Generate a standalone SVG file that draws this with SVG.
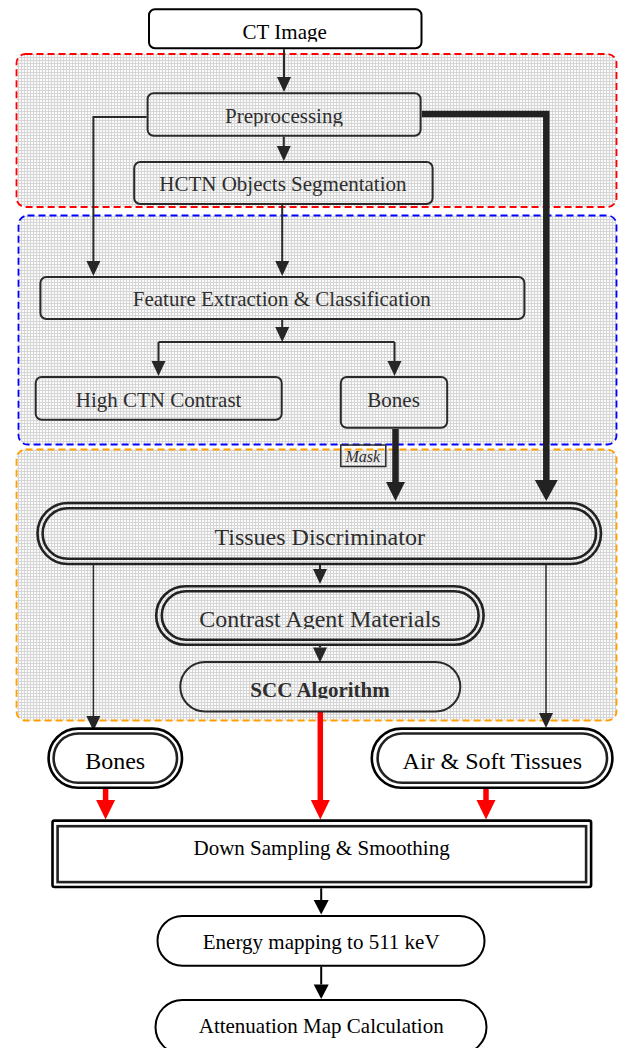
<svg xmlns="http://www.w3.org/2000/svg" width="618" height="1048" viewBox="0 0 618 1048">
<style>
.t{font-family:"Liberation Serif","Times New Roman",serif;font-size:21px;fill:#2e2e2e;text-anchor:middle}
.tb{fill:#000}
.big{font-size:24px}
.bold{font-weight:bold}
.it{font-style:italic;font-size:16px}
.box{fill:none;stroke:#2a2a2a;stroke-width:2}
.boxw{fill:#fff;stroke:#000;stroke-width:2}
.dbl{fill:none;stroke:#222;stroke-width:2.6}
.dblw{fill:#fff;stroke:#000;stroke-width:2.6}
.ln{fill:none;stroke:#2a2a2a;stroke-width:2}
.thin{fill:none;stroke:#2a2a2a;stroke-width:1.5}
.thick{fill:none;stroke:#222;stroke-width:6.5}
.lnb{fill:none;stroke:#000;stroke-width:2}
.red{fill:none;stroke:#ff0000;stroke-width:5.5}
.reg{fill:url(#grid);stroke-width:1.8;stroke-dasharray:7 4}
</style>
<defs>
<pattern id="grid" width="3" height="3" patternUnits="userSpaceOnUse">
<rect width="3" height="3" fill="#fafafa"/>
<path d="M0,0.5H3M0.5,0V3" stroke="#d6d6d6" stroke-width="1"/>
</pattern>
<marker id="mD" markerUnits="userSpaceOnUse" orient="auto" refX="0" refY="0" markerWidth="20" markerHeight="20" viewBox="0 -10 20 20" overflow="visible"><path d="M0,-7 L15,0 L0,7 z" fill="#262626"/></marker>
<marker id="mT1" markerUnits="userSpaceOnUse" orient="auto" refX="0" refY="0" markerWidth="24" markerHeight="24" viewBox="0 -12 24 24" overflow="visible"><path d="M0,-9.5 L19,0 L0,9.5 z" fill="#222"/></marker>
<marker id="mT2" markerUnits="userSpaceOnUse" orient="auto" refX="0" refY="0" markerWidth="26" markerHeight="26" viewBox="0 -13 26 26" overflow="visible"><path d="M0,-11.5 L21,0 L0,11.5 z" fill="#222"/></marker>
<marker id="mB" markerUnits="userSpaceOnUse" orient="auto" refX="0" refY="0" markerWidth="20" markerHeight="20" viewBox="0 -10 20 20" overflow="visible"><path d="M0,-7.5 L14.5,0 L0,7.5 z" fill="#000"/></marker>
<marker id="mR" markerUnits="userSpaceOnUse" orient="auto" refX="0" refY="0" markerWidth="24" markerHeight="24" viewBox="0 -12 24 24" overflow="visible"><path d="M0,-9.5 L19.5,0 L0,9.5 z" fill="#ff0000"/></marker>
<clipPath id="cCT"><rect x="140" y="10" width="290" height="31.7"/></clipPath>
<clipPath id="cPre"><rect x="140" y="94" width="290" height="32.5"/></clipPath>
<clipPath id="cCAM"><rect x="150" y="590" width="340" height="39"/></clipPath>
<clipPath id="cSCC"><rect x="170" y="663" width="300" height="35.5"/></clipPath>
</defs>
<rect width="618" height="1048" fill="#fff"/>
<g id="regions">
<rect class="reg" x="16.5" y="54" width="600" height="153" rx="9" stroke="#ff0000"/>
<rect class="reg" x="18.5" y="215.5" width="598" height="229" rx="9" stroke="#0000ff"/>
<rect class="reg" x="16.5" y="449.5" width="600" height="271" rx="9" stroke="#ffa000"/>
</g>
<g id="connectors">
<path class="ln" d="M284,49.3 V77" marker-end="url(#mD)"/>
<path class="ln" d="M283.8,136.7 V146" marker-end="url(#mD)"/>
<path class="ln" d="M146.6,117 H93.4 V261" marker-end="url(#mD)"/>
<path class="ln" d="M282.2,205 V261" marker-end="url(#mD)"/>
<path class="ln" d="M282.2,320 V327" marker-end="url(#mD)"/>
<path class="ln" d="M158.5,342 H394.5"/>
<path class="ln" d="M158.5,342 V361" marker-end="url(#mD)"/>
<path class="ln" d="M394.5,342 V361" marker-end="url(#mD)"/>
<path class="thick" d="M395.5,429 V482" marker-end="url(#mT1)"/>
<path class="thick" d="M421.8,114 H546.3 V480" marker-end="url(#mT2)"/>
<path class="ln" d="M320,565 V569" marker-end="url(#mD)"/>
<path class="ln" d="M320,646 V647.5" marker-end="url(#mD)"/>
<path class="thin" d="M93.4,565 V716" marker-end="url(#mD)"/>
<path class="thin" d="M546,565 V713" marker-end="url(#mD)"/>
<path class="red" d="M105.6,783 V800" marker-end="url(#mR)"/>
<path class="red" d="M320.3,712 V800" marker-end="url(#mR)"/>
<path class="red" d="M486,783 V800" marker-end="url(#mR)"/>
<path class="lnb" d="M321.2,888.3 V900" marker-end="url(#mB)"/>
<path class="lnb" d="M321.2,966.7 V984.5" marker-end="url(#mB)"/>
</g>
<g id="ct-image">
<rect class="boxw" x="149" y="9.3" width="272.5" height="39" rx="6"/>
<text class="t tb" x="284.7" y="39.3" clip-path="url(#cCT)">CT Image</text>
</g>
<g id="preprocessing">
<rect class="box" x="147.6" y="93.3" width="273" height="42.4" rx="6"/>
<text class="t" x="284" y="123.3" clip-path="url(#cPre)">Preprocessing</text>
</g>
<g id="hctn">
<rect class="box" x="134.2" y="162" width="298.4" height="42" rx="6"/>
<text class="t" x="282.9" y="190.6">HCTN Objects Segmentation</text>
</g>
<g id="feature">
<rect class="box" x="40.4" y="277" width="484" height="42" rx="6"/>
<text class="t" x="281.8" y="305.5">Feature Extraction &amp; Classification</text>
</g>
<g id="high-ctn">
<rect class="box" x="35.7" y="377" width="246" height="42.7" rx="6"/>
<text class="t" x="158.6" y="406.5">High CTN Contrast</text>
</g>
<g id="bones-class">
<rect class="box" x="340.8" y="377" width="106.4" height="50.7" rx="6"/>
<text class="t" x="393.6" y="406.5">Bones</text>
</g>
<g id="mask">
<rect x="340.8" y="445" width="45" height="21.5" fill="none" stroke="#2a2a2a" stroke-width="1.5"/>
<text class="t it" x="362.8" y="461.5">Mask</text>
</g>
<g id="tissues-discriminator">
<rect class="dbl" x="37.5" y="503" width="563.5" height="61" rx="30.5"/>
<rect class="dbl" x="42.6" y="508.2" width="553.4" height="50.6" rx="25.3"/>
<text class="t big" x="319.7" y="545">Tissues Discriminator</text>
</g>
<g id="contrast-agent">
<rect class="dbl" x="156.2" y="586.2" width="327.4" height="58.6" rx="29.3"/>
<rect class="dbl" x="161.8" y="591.2" width="316.8" height="48.6" rx="24.3"/>
<text class="t big" x="320" y="626.7" clip-path="url(#cCAM)">Contrast Agent Materials</text>
</g>
<g id="scc">
<rect class="box" x="180.3" y="662" width="280" height="49.5" rx="24.7"/>
<text class="t bold" x="320" y="696.7" clip-path="url(#cSCC)">SCC Algorithm</text>
</g>
<g id="bones-out">
<rect class="dblw" x="48.6" y="728.6" width="133.4" height="59.1" rx="29.5"/>
<rect class="dbl" x="53.6" y="733.5" width="123.4" height="49.3" rx="24.6" stroke="#000"/>
<text class="t tb big" x="115.2" y="769.3">Bones</text>
</g>
<g id="air-soft">
<rect class="dblw" x="371.8" y="728.6" width="240.6" height="59.1" rx="29.5"/>
<rect class="dbl" x="377.6" y="733.5" width="229.4" height="49.3" rx="24.6" stroke="#000"/>
<text class="t tb big" x="492.3" y="769.3">Air &amp; Soft Tissues</text>
</g>
<g id="down-sampling">
<rect class="dblw" x="52.5" y="820.6" width="538.6" height="66.4" rx="2"/>
<rect class="dbl" x="57.6" y="826.2" width="528.5" height="55.9" stroke="#000"/>
<text class="t tb" x="321.6" y="855">Down Sampling &amp; Smoothing</text>
</g>
<g id="energy">
<rect class="boxw" x="157.5" y="916" width="327" height="49.7" rx="24.8"/>
<text class="t tb" x="321.2" y="949.3">Energy mapping to 511 keV</text>
</g>
<g id="attenuation">
<rect class="boxw" x="155.5" y="1000" width="331" height="54" rx="27"/>
<text class="t tb" x="321.2" y="1033.3">Attenuation Map Calculation</text>
</g>
</svg>
